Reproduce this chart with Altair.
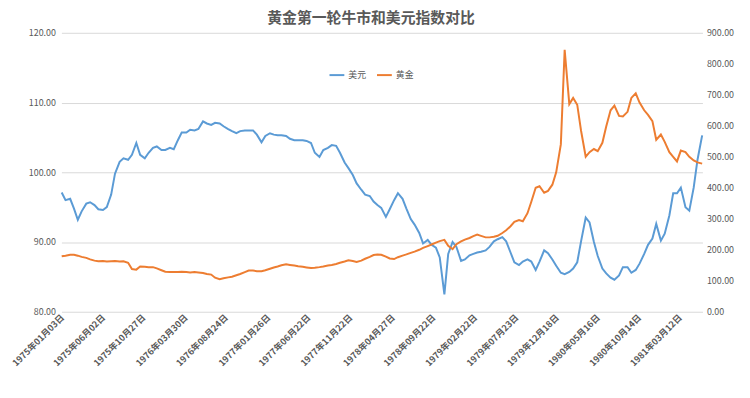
import altair as alt
import pandas as pd

# semi-monthly sampling dates (1st and 15th of each month)
dates = pd.date_range("1975-01-01", "1981-06-01", freq="SMS").strftime("%Y-%m-%d").tolist()

# US dollar index (left axis)
usd = [
    97.1, 96.0, 96.2, 94.8, 93.2, 94.4, 95.5, 95.7, 95.3, 94.7,
    94.6, 95.0, 96.8, 99.8, 101.5, 102.0, 101.8, 102.5, 104.2, 102.5,
    102.0, 102.8, 103.5, 103.7, 103.2, 103.2, 103.5, 103.3, 104.6, 105.7,
    105.7, 106.1, 106.0, 106.2, 107.3, 107.0, 106.8, 107.1, 107.0, 106.6,
    106.2, 105.9, 105.6, 105.9, 106.0, 106.0, 106.0, 105.4, 104.3, 105.2,
    105.6, 105.4, 105.3, 105.3, 105.2, 104.8, 104.6, 104.6, 104.6, 104.5,
    104.2, 102.8, 102.2, 103.2, 103.5, 103.9, 103.8, 102.8, 101.4, 100.6,
    99.6, 98.4, 97.5, 96.8, 96.6, 95.8, 95.3, 94.9, 93.6, 94.7,
    96.0, 97.0, 96.2, 94.8, 93.3, 92.5, 91.3, 89.8, 90.3, 89.6,
    89.2, 87.8, 82.5, 88.3, 90.0, 89.3, 87.3, 87.5, 88.1, 88.3,
    88.5, 88.6, 88.8, 89.3, 90.1, 90.4, 90.7, 90.1, 88.5, 87.1,
    86.7, 87.2, 87.5, 87.2, 86.0, 87.2, 88.8, 88.4, 87.5, 86.6,
    85.6, 85.4, 85.7, 86.2, 87.1, 90.1, 93.5, 92.8, 90.0, 88.0,
    86.2, 85.5, 84.9, 84.6, 85.2, 86.4, 86.4, 85.6, 86.0, 86.9,
    88.3, 89.6, 90.5, 92.6, 90.2, 91.2, 93.8, 97.0, 97.0, 97.8,
    95.0, 94.5, 97.8, 101.8, 105.3,
]

# gold price (right axis)
gold = [
    179, 181, 184, 184, 181, 177, 174, 169, 165, 163,
    164, 162, 163, 164, 162, 163, 158, 138, 136, 146,
    145, 144, 144, 140, 134, 129, 128, 128, 128, 129,
    128, 127, 128, 127, 125, 122, 120, 110, 105, 108,
    111, 113, 118, 122, 128, 133, 133, 131, 131, 134,
    139, 143, 146, 150, 153, 151, 149, 147, 145, 143,
    141, 142, 144, 146, 149, 151, 154, 158, 162, 166,
    164, 161, 165, 171, 177, 183, 185, 184, 178, 172,
    170, 176, 181, 185, 190, 194, 200, 206, 212, 217,
    223, 228, 232, 213, 202, 218, 227, 233, 238, 244,
    249, 245, 240, 240, 242, 245, 254, 263, 276, 290,
    296, 292, 318, 355, 400, 405, 384, 390, 410, 450,
    540, 845, 670, 690, 668, 584, 500, 515, 525, 518,
    545, 598, 650, 665, 632, 630, 645, 690, 705, 675,
    650, 635, 615, 555, 572, 548, 515, 500, 485, 520,
    515, 500, 488, 482, 478,
]

tick_dates = [
    "1975-01-03", "1975-06-02", "1975-10-27", "1976-03-30", "1976-08-24",
    "1977-01-26", "1977-06-22", "1977-11-22", "1978-04-27", "1978-09-22",
    "1979-02-22", "1979-07-23", "1979-12-18", "1980-05-16", "1980-10-14",
    "1981-03-12",
]
series_names = ["美元", "黄金"]
series_colors = ["#5B9BD5", "#ED7D31"]
left_ticks = [80, 90, 100, 110, 120]
right_ticks = [0, 100, 200, 300, 400, 500, 600, 700, 800, 900]


def ms(d):
    return int(pd.Timestamp(d, tz="UTC").value // 10**6)


usd_df = pd.DataFrame({"date": dates, "value": usd, "series": series_names[0]})
gold_df = pd.DataFrame({"date": dates, "value": gold, "series": series_names[1]})

FONT = "Noto Sans CJK SC"
GREY = "#595959"

x_enc = alt.X(
    "date:T",
    scale=alt.Scale(type="utc", domain=[ms("1974-12-31"), ms("1981-06-02")]),
    axis=alt.Axis(
        values=[ms(d) for d in tick_dates],
        labelExpr="utcFormat(datum.value, '%Y年%m月%d日')",
        labelAngle=-45,
        labelAlign="right",
        labelBaseline="middle",
        labelFontSize=9,
        labelFontWeight="bold",
        labelColor=GREY,
        labelPadding=4,
        labelOverlap=False,
        labelFlush=False,
        ticks=False,
        domain=False,
        grid=False,
        title=None,
    ),
)

color_enc = alt.Color(
    "series:N",
    scale=alt.Scale(domain=series_names, range=series_colors),
    legend=alt.Legend(
        orient="none",
        legendX=270,
        legendY=34,
        direction="horizontal",
        title=None,
        symbolType="stroke",
        symbolStrokeWidth=2,
        symbolSize=225,
        labelFontSize=9,
        labelColor=GREY,
        labelOffset=3,
        columnPadding=6,
    ),
)

usd_line = alt.Chart(usd_df).mark_line(strokeWidth=2).encode(
    x=x_enc,
    y=alt.Y(
        "value:Q",
        scale=alt.Scale(domain=[80, 120], nice=False, zero=False),
        axis=alt.Axis(
            values=left_ticks,
            format=".2f",
            grid=True,
            gridColor="#D9D9D9",
            domain=False,
            ticks=False,
            labelFontSize=9,
            labelColor=GREY,
            labelPadding=6,
            title=None,
            orient="left",
        ),
    ),
    color=color_enc,
)

gold_line = alt.Chart(gold_df).mark_line(strokeWidth=2).encode(
    x=x_enc,
    y=alt.Y(
        "value:Q",
        scale=alt.Scale(domain=[0, 900], nice=False),
        axis=alt.Axis(
            values=right_ticks,
            format=".2f",
            grid=False,
            domain=False,
            ticks=False,
            labelFontSize=9,
            labelColor=GREY,
            labelPadding=4,
            title=None,
            orient="right",
        ),
    ),
    color=color_enc,
)

chart = (
    alt.layer(usd_line, gold_line)
    .resolve_scale(y="independent")
    .properties(
        width=648,
        height=282,
        autosize="none",
        padding={"left": 54, "top": 23, "right": 40, "bottom": 77},
        title=alt.TitleParams(
            "黄金第一轮牛市和美元指数对比",
            fontSize=15,
            fontWeight="bold",
            color=GREY,
            font=FONT,
            anchor="middle",
            dx=-11,
            offset=3,
        ),
    )
    .configure(font=FONT)
    .configure_view(strokeWidth=0)
)

chart.save("out.html", embed_options={"renderer": "svg", "actions": False})
